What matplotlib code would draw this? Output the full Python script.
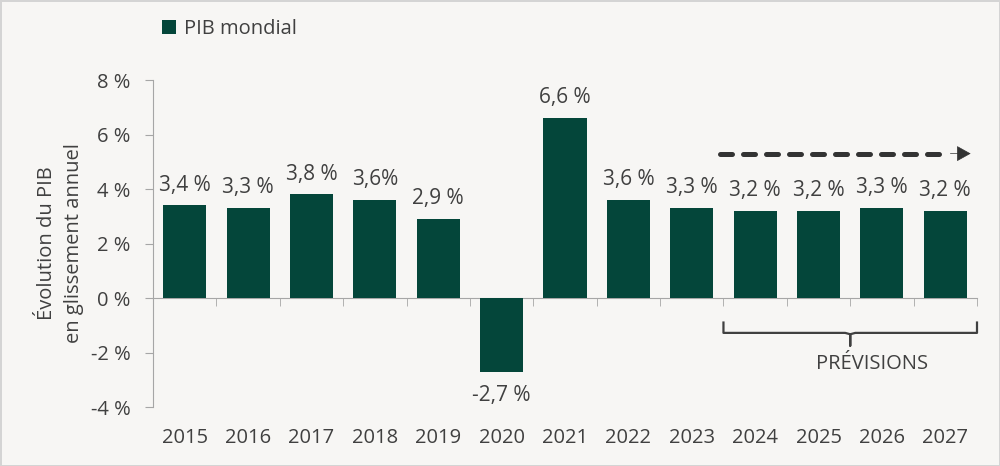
import matplotlib
matplotlib.use("Agg")
import matplotlib.pyplot as plt
import numpy as np

# values
years = ["2015", "2016", "2017", "2018", "2019", "2020", "2021",
         "2022", "2023", "2024", "2025", "2026", "2027"]
growth = [3.4, 3.3, 3.8, 3.6, 2.9, -2.7, 6.6, 3.6, 3.3, 3.2, 3.2, 3.3, 3.2]
valueLabels = ["3,4 %", "3,3 %", "3,8 %", "3,6%", "2,9 %", "-2,7 %", "6,6 %",
               "3,6 %", "3,3 %", "3,2 %", "3,2 %", "3,3 %", "3,2 %"]
yTicks = [-4, -2, 0, 2, 4, 6, 8]
firstForecast = "2024"

plt.rcParams['font.family'] = ['Open Sans', 'DejaVu Sans']
bg = '#f7f6f4'
barColor = '#04463a'
textColor = '#404040'
axisColor = '#a6a6a6'
fs = 14.5

fig = plt.figure(figsize=(10, 4.66), dpi=100, facecolor=bg,
                 edgecolor='#d4d4d4', linewidth=2)
ax = fig.add_axes([0.153, 0.1266, 0.824, 0.7017])
ax.set_facecolor(bg)

x = np.arange(len(years))
ax.bar(x, growth, width=0.68, color=barColor, zorder=3, label="PIB mondial")

# value labels above / below the bars
for xi, v, lab in zip(x, growth, valueLabels):
    if v >= 0:
        ax.annotate(lab, (xi, v), xytext=(0, 7), textcoords='offset points',
                    ha='center', va='bottom', fontsize=15, color=textColor)
    else:
        ax.annotate(lab, (xi, v), xytext=(0, -10), textcoords='offset points',
                    ha='center', va='top', fontsize=15, color=textColor)

ax.set_xlim(-0.5, len(years) - 0.5)
ax.set_ylim(yTicks[0], yTicks[-1])
ax.set_yticks(yTicks)
ax.set_yticklabels([f"{t} %" for t in yTicks])
ax.tick_params(axis='y', direction='out', length=6, color=axisColor,
               labelsize=fs, labelcolor=textColor, pad=10)

# x axis sits on zero, ticks between categories, year labels at the bottom
ax.spines['bottom'].set_position(('data', 0))
ax.spines['bottom'].set_color(axisColor)
ax.spines['left'].set_color(axisColor)
ax.spines['top'].set_visible(False)
ax.spines['right'].set_visible(False)
ax.set_xticks(x)
ax.set_xticklabels([])
ax.tick_params(axis='x', length=0)
ax.set_xticks(np.arange(len(years) + 1) - 0.5, minor=True)
ax.tick_params(axis='x', which='minor', direction='out', length=6, color=axisColor)
for xi, yr in zip(x, years):
    ax.text(xi, -0.095, yr, transform=ax.get_xaxis_transform(),
            ha='center', va='center', fontsize=fs, color=textColor)

ax.set_ylabel("Évolution du PIB\nen glissement annuel", fontsize=fs,
              color=textColor, labelpad=5, linespacing=1.5)

# forecast arrow and bracket
f0 = years.index(firstForecast)
ax.plot([f0 - 0.55, len(years) - 1.0], [5.3, 5.3], color='#333333', lw=3.6,
        dashes=(2.4, 2.2), solid_capstyle='round', dash_capstyle='round',
        clip_on=False)
ax.annotate("", xy=(len(years) - 0.6, 5.3), xytext=(len(years) - 0.92, 5.3),
            arrowprops=dict(arrowstyle='-|>,head_length=0.9,head_width=0.5',
                            color='#333333', lw=0.5, shrinkA=0, shrinkB=0))
bx0, bx1 = f0 - 0.5, len(years) - 0.5
bmid = (bx0 + bx1) / 2
ax.plot([bx0, bx0, bmid - 0.08, bmid, bmid, bmid, bmid + 0.08, bx1, bx1],
        [-0.9, -1.28, -1.28, -1.33, -1.75, -1.33, -1.28, -1.28, -0.9],
        color=textColor, lw=1.6, solid_joinstyle='round', clip_on=False)
ax.text(bmid + 0.35, -2.42, "PRÉVISIONS", ha='center', va='center',
        fontsize=fs, color=textColor)

# legend
leg = fig.legend(loc='upper left', bbox_to_anchor=(0.162, 0.96), frameon=False,
                 fontsize=fs, handlelength=0.7, handleheight=0.7,
                 handletextpad=0.4, borderpad=0, borderaxespad=0,
                 labelcolor=textColor)

fig.savefig("out.png", dpi=100, facecolor=bg, edgecolor='#d4d4d4')
